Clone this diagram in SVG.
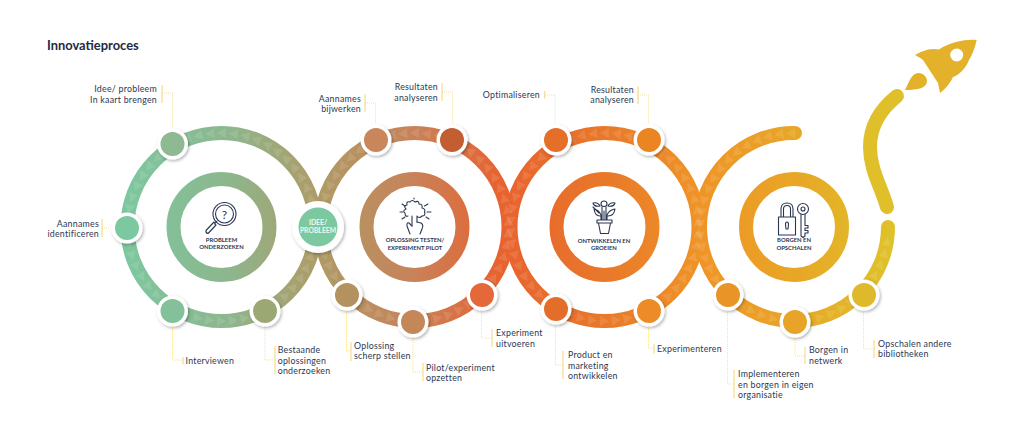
<svg xmlns="http://www.w3.org/2000/svg" xmlns:xlink="http://www.w3.org/1999/xlink" width="1024" height="439" viewBox="0 0 1024 439">
<style>
text{font-family:"Lato","Liberation Sans",sans-serif;fill:#2b3752}
.lb{font-size:8.8px;letter-spacing:.25px}
.e{text-anchor:end}
.h{font-size:5.9px;font-weight:700;text-anchor:middle}
.ih{font-size:6.8px;font-weight:700;text-anchor:middle;fill:#eef8f1}
.t{font-size:12.9px;font-weight:700;fill:#1f2a44}
.bar{stroke:#f4d97f;stroke-width:1.1;fill:none}
.dot{stroke:#f4d97f;stroke-width:.8;stroke-dasharray:1 1;fill:none}
.band{fill:none;stroke:url(#g);stroke-width:14}
.inner{fill:none;stroke:url(#g);stroke-width:14}
.ic{fill:none;stroke:#2b3752;stroke-width:1.1;stroke-linecap:round;stroke-linejoin:round}
.w{fill:#fff;filter:url(#s)}
</style>
<defs>
<linearGradient id="g" gradientUnits="userSpaceOnUse" x1="120" y1="0" x2="900" y2="0">
<stop offset="0" stop-color="#7cc8a0"/><stop offset=".141" stop-color="#8db68d"/><stop offset=".254" stop-color="#ae9b66"/><stop offset=".377" stop-color="#c8825a"/><stop offset=".487" stop-color="#e8622f"/><stop offset=".62" stop-color="#e8782a"/><stop offset=".744" stop-color="#ef9426"/><stop offset=".865" stop-color="#e8a626"/><stop offset="1" stop-color="#dec42a"/>
</linearGradient>
<filter id="s" x="-30%" y="-30%" width="170%" height="170%"><feDropShadow dx="1.2" dy="1.5" stdDeviation="1.5" flood-color="#000" flood-opacity=".3"/></filter>
<polygon id="tri" points="-4.500,-94 4.500,-99 4.500,-89" fill="#fff" fill-opacity=".11"/>
<g id="t5"><use href="#tri"/><use href="#tri" transform="rotate(-7.2)"/><use href="#tri" transform="rotate(-14.4)"/><use href="#tri" transform="rotate(-21.6)"/><use href="#tri" transform="rotate(-28.8)"/></g>
<g id="t25"><use href="#t5"/><use href="#t5" transform="rotate(-36)"/><use href="#t5" transform="rotate(-72)"/><use href="#t5" transform="rotate(-108)"/><use href="#t5" transform="rotate(-144)"/></g>
<g id="t50"><use href="#t25"/><use href="#t25" transform="rotate(-180)"/></g>
</defs>

<text class="t" x="47" y="49.500">Innovatieproces</text>

<g id="connectors">
<g id="rings">
<circle class="band" cx="221.500" cy="227" r="94"/>
<circle class="band" cx="414.500" cy="227" r="94"/>
<circle class="band" cx="604.500" cy="227" r="94"/>
<path class="band" stroke-linecap="round" d="M795 133A94 94 0 1 0 888 227"/>
<path d="M887 207C881 186 870 170 870 147C870 125 882 108 897 96" fill="none" stroke="#dfbf2a" stroke-width="14" stroke-linecap="round"/>
</g>
<g id="arrows">
<use href="#t50" transform="translate(221.500 227)"/>
<use href="#t50" transform="translate(414.500 227)"/>
<use href="#t50" transform="translate(604.500 227)"/>
<g transform="translate(794 227)"><use href="#t25" transform="rotate(-2)"/><use href="#t5" transform="rotate(-182)"/><use href="#t5" transform="rotate(-218)"/><use href="#tri" transform="rotate(-254)"/><use href="#tri" transform="rotate(-261.200)"/></g>
</g>
<g id="leaders">
<path class="bar" d="M162 85V103M102 219V237M183 357V364.500M275 346V374M365 94V112M442 83V101M544.700 91V98.500M638 86V104M351 342V361M423 363V381M492 329V347M563 351V379M654 344V353.500M734 370V398M805 347V364M874 340V358"/>
<path class="dot" d="M162 93H172.500V127M102 228H110M172.500 326V360H183M265 327V360H275M365 103H375.500V123M442 92H452.500V123M545 95H555V123M638 95H648.500V123M346.500 312V351H351M413 338V372H423M481.500 312V338H492M555.500 327V365H563M648.500 328V348H654M727.500 312V384H734M795 338V356H805M863.500 312V349H874"/>
</g>
</g>

<g id="step-1-1"><circle class="w" cx="172.500" cy="144" r="15.500"/><circle cx="172.500" cy="144" r="12" fill="#8db993"/><text class="lb e" x="157" y="92">Idee/ probleem</text><text class="lb e" x="157" y="103">In kaart brengen</text></g>
<g id="step-1-2"><circle class="w" cx="127" cy="228" r="15.500"/><circle cx="127" cy="228" r="12" fill="#7cc8a0"/><text class="lb e" x="99" y="227">Aannames</text><text class="lb e" x="99" y="237">identificeren</text></g>
<g id="step-1-3"><circle class="w" cx="172.500" cy="311" r="15.500"/><circle cx="172.500" cy="311" r="12" fill="#84c19a"/><text class="lb" x="185.500" y="364">Interviewen</text></g>
<g id="step-1-4"><circle class="w" cx="265" cy="311" r="15.500"/><circle cx="265" cy="311" r="12" fill="#9ba874"/><text class="lb" x="277.700" y="353">Bestaande</text><text class="lb" x="277.700" y="364">oplossingen</text><text class="lb" x="277.700" y="374">onderzoeken</text></g>
<g id="idee"><circle class="w" cx="318" cy="227" r="26"/><circle cx="318" cy="227" r="19.500" fill="#7cc8a0"/><text class="ih" x="318" y="225">IDEE/</text><text class="ih" x="318" y="233">PROBLEEM</text></g>

<g id="step-2-1"><circle class="w" cx="376" cy="140" r="15.500"/><circle cx="376" cy="140" r="12" fill="#c8865a"/><text class="lb e" x="361" y="102">Aannames</text><text class="lb e" x="361" y="112">bijwerken</text></g>
<g id="step-2-2"><circle class="w" cx="452" cy="140" r="15.500"/><circle cx="452" cy="140" r="12" fill="#c25e32"/><text class="lb e" x="438" y="90">Resultaten</text><text class="lb e" x="438" y="101">analyseren</text></g>
<g id="step-2-3"><circle class="w" cx="347" cy="295" r="15.500"/><circle cx="347" cy="295" r="12" fill="#b3925f"/><text class="lb" x="354" y="349">Oplossing</text><text class="lb" x="354" y="359">scherp stellen</text></g>
<g id="step-2-4"><circle class="w" cx="413" cy="322" r="15.500"/><circle cx="413" cy="322" r="12" fill="#c4875a"/><text class="lb" x="426" y="371">Pilot/experiment</text><text class="lb" x="426" y="381">opzetten</text></g>
<g id="step-2-5"><circle class="w" cx="482" cy="295" r="15.500"/><circle cx="482" cy="295" r="12" fill="#e5683a"/><text class="lb" x="496" y="336">Experiment</text><text class="lb" x="496" y="347">uitvoeren</text></g>

<g id="step-3-1"><circle class="w" cx="556" cy="140" r="15.500"/><circle cx="556" cy="140" r="12" fill="#e56f28"/><text class="lb e" x="540" y="98">Optimaliseren</text></g>
<g id="step-3-2"><circle class="w" cx="649" cy="140" r="15.500"/><circle cx="649" cy="140" r="12" fill="#eb8524"/><text class="lb e" x="634" y="93">Resultaten</text><text class="lb e" x="634" y="103">analyseren</text></g>
<g id="step-3-3"><circle class="w" cx="556" cy="309" r="15.500"/><circle cx="556" cy="309" r="12" fill="#e36e2a"/><text class="lb" x="568" y="358">Product en</text><text class="lb" x="568" y="369">marketing</text><text class="lb" x="568" y="379">ontwikkelen</text></g>
<g id="step-3-4"><circle class="w" cx="649" cy="311" r="15.500"/><circle cx="649" cy="311" r="12" fill="#ec8b27"/><text class="lb" x="657" y="352">Experimenteren</text></g>

<g id="step-4-1"><circle class="w" cx="728" cy="295" r="15.500"/><circle cx="728" cy="295" r="12" fill="#e89427"/><text class="lb" x="738" y="377">Implementeren</text><text class="lb" x="738" y="388">en borgen in eigen</text><text class="lb" x="738" y="398">organisatie</text></g>
<g id="step-4-2"><circle class="w" cx="795" cy="322" r="15.500"/><circle cx="795" cy="322" r="12" fill="#e8a428"/><text class="lb" x="809" y="353">Borgen in</text><text class="lb" x="809" y="364">netwerk</text></g>
<g id="step-4-3"><circle class="w" cx="864" cy="295" r="15.500"/><circle cx="864" cy="295" r="12" fill="#dfb92c"/><text class="lb" x="878" y="347">Opschalen andere</text><text class="lb" x="878" y="357">bibliotheken</text></g>

<g id="phase-1"><circle class="inner" cx="221.500" cy="227" r="48"/>
<circle class="ic" cx="224.500" cy="214" r="11.500"/><circle class="ic" cx="224.500" cy="214" r="9"/>
<text x="224.500" y="218.500" style="font-size:12px;text-anchor:middle">?</text>
<path class="ic" d="M217 221L214.500 224M214 222L206 230.500Q205.500 233 208 233.500L216 225Z"/>
<text class="h" x="221.500" y="242">PROBLEEM</text><text class="h" x="221.500" y="249">ONDERZOEKEN</text></g>

<g id="phase-2"><circle class="inner" cx="414.500" cy="227" r="48"/>
<path class="ic" d="M407 205Q406 201 410 202Q412 199 415 202Q419 200 419 204Q423 204 422 208Q426 209 424.500 212Q426 216 422 216Q419 219 417 216L417 222M408 216Q405 217 405 213Q402 211 406 209Q403 206 407 205M412 216L412 226"/>
<path class="ic" d="M410 234L407 226Q406.500 222 409 223L412 226M417 222L421 223Q424 225 422 229L420 234M402 204L405 206M428 204L424.500 206M400 212H403M431 212H427M402 219L405 217M429 219L426 217M414 198V199"/>
<text class="h" x="415" y="242">OPLOSSING TESTEN/</text><text class="h" x="415" y="250">EXPERIMENT PILOT</text></g>

<g id="phase-3"><circle class="inner" cx="604.500" cy="227" r="48"/>
<path class="ic" d="M597 220H612V223H597ZM598.500 223L600.500 233.500H608.500L610.500 223M604 220V211M601 220V215Q599 210 594 209Q595 216 600 216M607 220V215Q609 210 615 209Q614 216 608 216M599 213Q594 208 593 207M604 206.500Q601 206.500 601 204Q601 201 604 201Q607 201 607 204Q607 206.500 604 206.500ZM602 207V220M606 207V220M600 206Q598 202 593 203Q594 207 600 206M608 206Q610 202 615 203Q614 207 608 206"/>
<text class="h" x="604" y="243">ONTWIKKELEN EN</text><text class="h" x="604" y="250">GROEIEN</text></g>

<g id="phase-4"><circle class="inner" cx="794" cy="227" r="48"/>
<path class="ic" d="M778.500 217H795.500V235H778.500ZM781 217V209Q781 203 787 203Q793 203 793 209V217M783.500 217V209Q783.500 205.500 787 205.500Q790.500 205.500 790.500 209V217M785.500 224.500Q785.500 222 787 222Q788.500 222 788.500 224.500L788 229H786Z"/>
<circle class="ic" cx="803" cy="209" r="5.500"/><circle class="ic" cx="803" cy="209" r="2"/>
<path class="ic" d="M801 214.500V236L803 237.500L805 236V233H808V230.500H805V228H808V225.500H805V214.500"/>
<text class="h" x="794" y="242">BORGEN EN</text><text class="h" x="794" y="250">OPSCHALEN</text></g>

<g id="rocket"><path d="M976.700 40C965 39 953 42 943 47C941 48 940 49 939 49.500C935 48.500 931 49 928 49.500C923 51 918 53 915 55C918 57 921 58 923 60L938 83L940 93C944 90 950 84 953 77C958 76 966 68 969 60C972 55 975 48 976.700 40Z" fill="#e3b22a"/><circle cx="956.700" cy="55" r="6.500" fill="#fff"/><path d="M905 90C908 84 911 76 915 74C921 71 927 76 927 81C927 88 918 90 905 90Z" fill="#e3b22a"/></g>
</svg>
